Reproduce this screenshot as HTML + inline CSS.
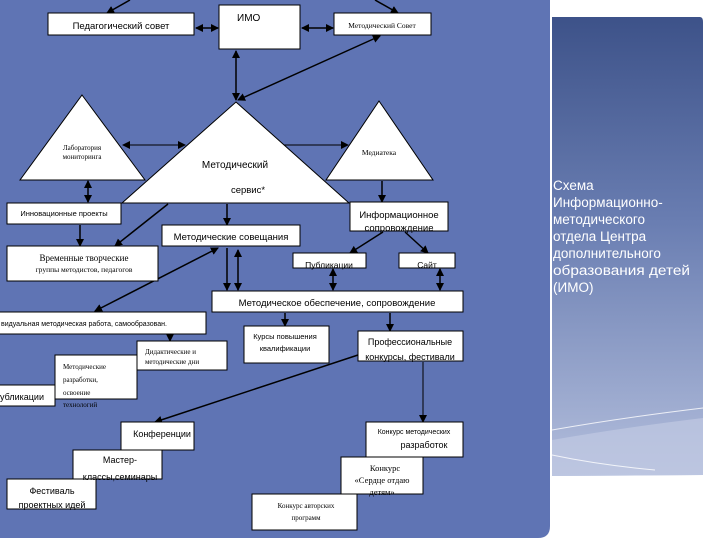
<!DOCTYPE html>
<html><head><meta charset="utf-8"><style>
html,body{margin:0;padding:0;background:#fff;width:720px;height:540px;overflow:hidden}
svg{display:block}
text{font-family:"Liberation Sans","DejaVu Sans",sans-serif;fill:#000}
.s{font-family:"Liberation Serif",serif}
</style></head><body>
<svg width="720" height="540" viewBox="0 0 720 540">
<defs>
<linearGradient id="g" x1="0" y1="0" x2="0" y2="1">
<stop offset="0" stop-color="#3d5289"/><stop offset="0.45" stop-color="#6a7eb2"/><stop offset="1" stop-color="#b3bedc"/></linearGradient>
<marker id="a" markerWidth="8" markerHeight="8" refX="7" refY="4" orient="auto" markerUnits="userSpaceOnUse"><path d="M0,0 L8,4 L0,8z" fill="#000"/></marker>
<marker id="b" markerWidth="8" markerHeight="8" refX="1" refY="4" orient="auto" markerUnits="userSpaceOnUse"><path d="M8,0 L0,4 L8,8z" fill="#000"/></marker>
</defs>
<path d="M0,0 H550 V526 Q550,538 538,538 H0z" fill="#5f74b4"/>
<path d="M552,17 H700 Q703,17 703,22 V475 L552,476z" fill="url(#g)"/>
<path d="M552,440 Q620,428 703,418 V475 L552,476z" fill="#c0c9e2" opacity="0.7"/>
<path d="M552,430 Q620,418 703,408 M552,455 Q600,465 655,470" stroke="#fff" stroke-width="1" fill="none" opacity="0.8"/>
<g font-size="13.5">
<text x="553" y="190" style="fill:#fff">Схема</text>
<text x="553" y="207" style="fill:#fff">Информационно-</text>
<text x="553" y="224" style="fill:#fff">методического</text>
<text x="553" y="241" style="fill:#fff">отдела Центра</text>
<text x="553" y="258" style="fill:#fff">дополнительного</text>
<text x="553" y="275" style="fill:#fff" textLength="137" lengthAdjust="spacingAndGlyphs">образования детей</text>
<text x="553" y="292" style="fill:#fff">(ИМО)</text>
</g>
<g stroke="#000" stroke-width="1.5" fill="none">
<line x1="130" y1="0" x2="107" y2="13" marker-end="url(#a)"/>
<line x1="375" y1="0" x2="398" y2="13" marker-end="url(#a)"/>
<line x1="196" y1="28" x2="218" y2="28" marker-start="url(#b)" marker-end="url(#a)"/>
<line x1="302" y1="28" x2="333" y2="28" marker-start="url(#b)" marker-end="url(#a)"/>
<line x1="236" y1="51" x2="236" y2="100" marker-start="url(#b)" marker-end="url(#a)"/>
<line x1="380" y1="36" x2="238" y2="100" marker-start="url(#b)" marker-end="url(#a)"/>
<line x1="123" y1="145" x2="185" y2="145" stroke-width="1" marker-start="url(#b)" marker-end="url(#a)"/>
<line x1="283" y1="145" x2="348" y2="145" stroke-width="1" marker-end="url(#a)"/>
<line x1="88" y1="181" x2="88" y2="202" marker-start="url(#b)" marker-end="url(#a)"/>
<line x1="382" y1="181" x2="382" y2="202" marker-end="url(#a)"/>
<line x1="80" y1="225" x2="80" y2="246" marker-end="url(#a)"/>
<line x1="168" y1="204" x2="115" y2="246" marker-end="url(#a)"/>
<line x1="227" y1="204" x2="227" y2="225" marker-end="url(#a)"/>
<line x1="383" y1="232" x2="350" y2="253" marker-end="url(#a)"/>
<line x1="405" y1="232" x2="428" y2="253" marker-end="url(#a)"/>
<line x1="218" y1="248" x2="95" y2="311" marker-start="url(#b)" marker-end="url(#a)"/>
<line x1="227" y1="248" x2="227" y2="290" marker-end="url(#a)"/>
<line x1="238" y1="250" x2="238" y2="290" marker-start="url(#b)" marker-end="url(#a)"/>
<line x1="333" y1="269" x2="333" y2="290" marker-start="url(#b)" marker-end="url(#a)"/>
<line x1="440" y1="269" x2="440" y2="290" marker-start="url(#b)" marker-end="url(#a)"/>
<line x1="285" y1="313" x2="285" y2="326" marker-end="url(#a)"/>
<line x1="390" y1="313" x2="390" y2="331" marker-end="url(#a)"/>
<line x1="170" y1="335" x2="170" y2="341" marker-end="url(#a)"/>
<line x1="358" y1="355" x2="155" y2="422" marker-end="url(#a)"/>
<line x1="423" y1="362" x2="423" y2="422" stroke-width="1" marker-end="url(#a)"/>
</g>
<g fill="#fff" stroke="#000" stroke-width="1">
<rect x="48" y="13" width="146" height="22"/>
<rect x="219" y="5" width="81" height="44"/>
<rect x="334" y="13" width="97" height="22"/>
<polygon points="82,95 145,180 20,180"/>
<polygon points="236,102 349,203 122,203"/>
<polygon points="379,101 433,180 326,180"/>
<rect x="7" y="203" width="114" height="21"/>
<rect x="162" y="225" width="138" height="21"/>
<rect x="7" y="246" width="151" height="35"/>
<rect x="350" y="202" width="98" height="29"/>
<rect x="293" y="253" width="73" height="15"/>
<rect x="399" y="253" width="56" height="15"/>
<rect x="212" y="291" width="251" height="21"/>
<rect x="-1" y="312" width="207" height="22"/>
<rect x="137" y="341" width="90" height="29"/>
<rect x="55" y="355" width="82" height="44"/>
<rect x="-1" y="385" width="56" height="21"/>
<rect x="244" y="326" width="85" height="37"/>
<rect x="358" y="331" width="105" height="30"/>
<rect x="121" y="422" width="73" height="28"/>
<rect x="73" y="450" width="89" height="29"/>
<rect x="7" y="479" width="89" height="30"/>
<rect x="366" y="422" width="97" height="35"/>
<rect x="341" y="457" width="82" height="37"/>
<rect x="252" y="494" width="105" height="36"/>
</g>
<g font-size="9.5">
<text x="121" y="29" text-anchor="middle">Педагогический совет</text>
<text x="237" y="21" font-size="10">ИМО</text>
<text x="382" y="28" text-anchor="middle" font-size="7.5" class="s">Методический Совет</text>
<text x="82" y="150" text-anchor="middle" font-size="7" class="s">Лаборатория</text>
<text x="82" y="159" text-anchor="middle" font-size="7" class="s">мониторинга</text>
<text x="379" y="155" text-anchor="middle" font-size="7.5" class="s">Медиатека</text>
<text x="235" y="168" text-anchor="middle" font-size="10">Методический</text>
<text x="248" y="193" text-anchor="middle" font-size="9.5">сервис*</text>
<text x="64" y="216" text-anchor="middle" font-size="7.5">Инновационные проекты</text>
<text x="231" y="240" text-anchor="middle">Методические совещания</text>
<text x="84" y="261" text-anchor="middle" font-size="9" class="s">Временные творческие</text>
<text x="84" y="272" text-anchor="middle" font-size="7.5" class="s">группы методистов, педагогов</text>
<text x="399" y="218" text-anchor="middle" font-size="9.5">Информационное</text>
<text x="399" y="231" text-anchor="middle" font-size="9.5">сопровождение</text>
<text x="329" y="268" text-anchor="middle" font-size="8.5">Публикации</text>
<text x="427" y="268" text-anchor="middle" font-size="8.5">Сайт</text>
<text x="337" y="306" text-anchor="middle" font-size="9.5">Методическое обеспечение, сопровождение</text>
<text x="1" y="326" font-size="7">видуальная методическая работа, самообразован.</text>
<text x="145" y="354" font-size="7" class="s">Дидактические и</text>
<text x="145" y="364" font-size="7" class="s">методические дни</text>
<text x="63" y="369" font-size="7" class="s">Методические</text>
<text x="63" y="382" font-size="7" class="s">разработки,</text>
<text x="63" y="395" font-size="7" class="s">освоение</text>
<text x="63" y="407" font-size="7" class="s">технологий</text>
<text x="0" y="400" font-size="9">убликации</text>
<text x="285" y="339" text-anchor="middle" font-size="7.5">Курсы повышения</text>
<text x="285" y="351" text-anchor="middle" font-size="7.5">квалификации</text>
<text x="410" y="345" text-anchor="middle" font-size="9">Профессиональные</text>
<text x="410" y="360" text-anchor="middle" font-size="9">конкурсы, фестивали</text>
<text x="162" y="437" text-anchor="middle" font-size="9">Конференции</text>
<text x="120" y="463" text-anchor="middle" font-size="9">Мастер-</text>
<text x="120" y="480" text-anchor="middle" font-size="9">классы,семинары</text>
<text x="52" y="494" text-anchor="middle" font-size="9">Фестиваль</text>
<text x="52" y="508" text-anchor="middle" font-size="9">проектных идей</text>
<text x="414" y="434" text-anchor="middle" font-size="7">Конкурс методических</text>
<text x="424" y="448" text-anchor="middle" font-size="9">разработок</text>
<text x="385" y="471" text-anchor="middle" font-size="8.5" class="s">Конкурс</text>
<text x="382" y="483" text-anchor="middle" font-size="8.5" class="s">«Сердце отдаю</text>
<text x="382" y="495" text-anchor="middle" font-size="8.5" class="s">детям»</text>
<text x="306" y="508" text-anchor="middle" font-size="7" class="s">Конкурс авторских</text>
<text x="306" y="520" text-anchor="middle" font-size="7" class="s">программ</text>
</g>
</svg>
</body></html>
